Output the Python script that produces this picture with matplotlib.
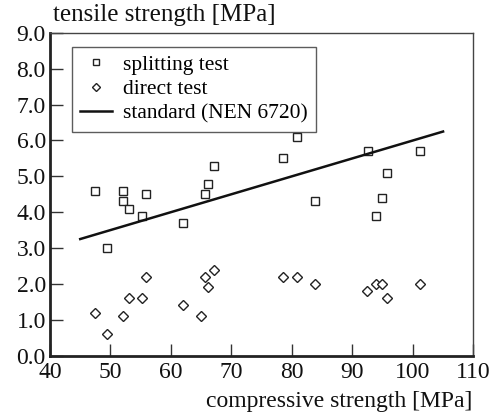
import matplotlib
matplotlib.use("Agg")
import matplotlib.pyplot as plt
import numpy as np

plt.rcParams['font.family'] = ['Liberation Serif', 'DejaVu Serif']

# splitting test
split_x = [47.5, 49.4, 52.0, 52.0, 53.0, 55.2, 55.8, 62.0, 65.6, 66.1, 67.1, 78.6, 80.8, 83.8, 92.6, 93.9, 94.9, 95.8, 101.2]
split_y = [4.6, 3.0, 4.6, 4.3, 4.1, 3.9, 4.5, 3.7, 4.5, 4.8, 5.3, 5.5, 6.1, 4.3, 5.7, 3.9, 4.4, 5.1, 5.7]
# direct test
direct_x = [47.5, 49.4, 52.0, 53.0, 55.2, 55.8, 62.0, 64.9, 65.6, 66.1, 67.1, 78.6, 80.8, 83.8, 92.5, 93.9, 94.9, 95.8, 101.2]
direct_y = [1.2, 0.6, 1.1, 1.6, 1.6, 2.2, 1.4, 1.1, 2.2, 1.9, 2.4, 2.2, 2.2, 2.0, 1.8, 2.0, 2.0, 1.6, 2.0]
# standard (NEN 6720)
std_x = [45, 105]
std_y = [3.25, 6.25]

x_ticks = [40, 50, 60, 70, 80, 90, 100, 110]
y_ticks = [0, 1, 2, 3, 4, 5, 6, 7, 8, 9]

fig = plt.figure(figsize=(4.92, 4.16), dpi=100)
ax = fig.add_axes([0.1016, 0.1454, 0.8604, 0.7753])

ax.plot(split_x, split_y, linestyle='none', marker='s', markersize=6.2,
        markerfacecolor='white', markeredgecolor='#222222', markeredgewidth=1.0,
        label='splitting test')
ax.plot(direct_x, direct_y, linestyle='none', marker='D', markersize=5.6,
        markerfacecolor='white', markeredgecolor='#222222', markeredgewidth=1.0,
        label='direct test')
ax.plot(std_x, std_y, color='#111111', linewidth=1.8, label='standard (NEN 6720)')

ax.set_xlim(40, 110)
ax.set_ylim(0, 9)
ax.set_xticks(x_ticks)
ax.set_xticklabels([str(v) for v in x_ticks])
ax.set_yticks(y_ticks)
ax.set_yticklabels([f"{v:.1f}" for v in y_ticks])
ax.tick_params(direction='in', length=9, width=1.0, labelsize=17, colors='#333333',
               labelcolor='#111111')
ax.tick_params(axis='x', pad=5)
ax.tick_params(axis='y', pad=3)

for s in ['left', 'bottom']:
    ax.spines[s].set_linewidth(2.0)
    ax.spines[s].set_color('#222222')
for s in ['top', 'right']:
    ax.spines[s].set_linewidth(1.0)
    ax.spines[s].set_color('#444444')

ax.text(0.007, 1.037, 'tensile strength [MPa]', transform=ax.transAxes,
        ha='left', va='baseline', fontsize=18, color='#111111')
ax.text(0.998, -0.16, 'compressive strength [MPa]', transform=ax.transAxes,
        ha='right', va='baseline', fontsize=17, color='#111111')

leg = ax.legend(loc='upper left', bbox_to_anchor=(0.051, 0.9575), borderaxespad=0,
                fontsize=15.5, frameon=True, fancybox=False, edgecolor='#333333',
                handlelength=1.5, handletextpad=0.5, labelspacing=0.2,
                borderpad=0.38, markerscale=0.8)
leg.get_frame().set_linewidth(1.0)

fig.savefig('out.png', dpi=100)
